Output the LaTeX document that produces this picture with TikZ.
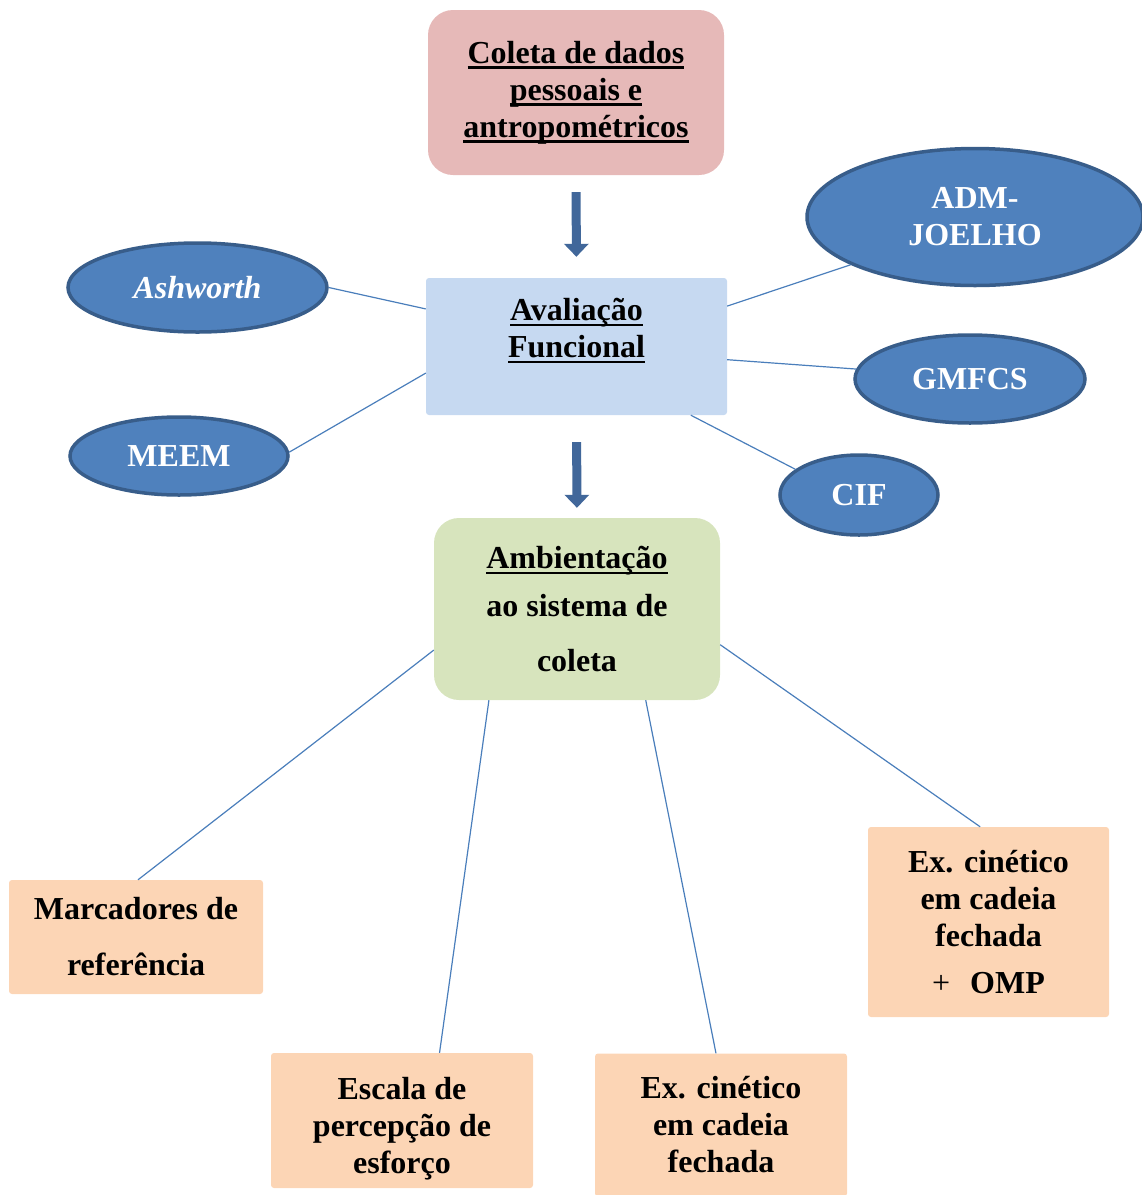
\documentclass[tikz,border=0pt]{standalone}
\usepackage{fontspec}
\setmainfont{Liberation Serif}
\usepackage{tikz}
\usetikzlibrary{arrows.meta}
\usetikzlibrary{shapes.geometric}
\definecolor{rosa}{HTML}{E6B9B8}
\definecolor{azulclaro}{HTML}{C6D9F1}
\definecolor{verde}{HTML}{D7E4BD}
\definecolor{laranja}{HTML}{FCD5B5}
\definecolor{azul}{HTML}{4F81BD}
\definecolor{azulborda}{HTML}{385D8A}
\definecolor{linha}{HTML}{4A7EBB}
\definecolor{azulseta}{HTML}{41679A}
\newcommand\sublinha[1]{\setbox0\hbox{#1}\rlap{\rule[-5.5pt]{\wd0}{2.5pt}}\box0}

\begin{document}
\begin{tikzpicture}[x=1pt,y=-1pt,font=\fontsize{32}{37}\selectfont\bfseries,
	etapa/.style={align=center,inner sep=0pt,rounded corners=25pt},
	oval/.style={ellipse,draw=azulborda,line width=3.5pt,fill=azul,text=white,align=center,inner sep=0pt},
	caixa/.style={fill=laranja,rounded corners=3pt,align=center,inner sep=0pt},
	liga/.style={draw=linha,line width=1.2pt},
	seta/.style={draw=azulseta,line width=9pt,-{Triangle[width=24pt,length=13pt]}}]
	\useasboundingbox (0,0) rectangle (1142,1195);
	% etapas
	\node[etapa,fill=rosa,minimum width=296pt,minimum height=165pt] (coleta) at (576,92.5) {\sublinha{Coleta de dados}\\\sublinha{pessoais e}\\\sublinha{antropométricos}};
	\node[etapa,fill=azulclaro,rounded corners=3pt,minimum width=301pt,minimum height=137pt] (ava) at (576.5,346.5) {\sublinha{Avaliação}\\\sublinha{Funcional}\\\mbox{}};
	\node[etapa,fill=verde,minimum width=286pt,minimum height=182pt] (amb) at (577,609) {\sublinha{Ambientação}\\[11pt]ao sistema de\\[18pt]coleta};
	\draw[seta,shorten <=17pt,shorten >=21pt] (coleta.south) -- (ava.north);
	\draw[seta,shorten <=27pt,shorten >=10pt] (ava.south) -- (amb.north);
	% escalas
	\node[oval,minimum width=259pt,minimum height=89pt] (ash) at (197.5,287.5) {\itshape Ashworth};
	\node[oval,minimum width=218pt,minimum height=78pt] (meem) at (179,456) {MEEM};
	\node[oval,minimum width=336pt,minimum height=137pt] (adm) at (975,217) {ADM-\\JOELHO};
	\node[oval,minimum width=230pt,minimum height=88pt] (gmfcs) at (970,379) {GMFCS};
	\node[oval,minimum width=158pt,minimum height=80pt] (cif) at (859,495) {CIF};
	\draw[liga] (ash.0) -- (ava.166);
	\draw[liga] (meem.2) -- (ava.190);
	\draw[liga] (ava.15) -- (adm.201);
	\draw[liga] (ava.-5) -- (gmfcs.175);
	\draw[liga] (ava.-31) -- (cif.158);
	% coleta
	\node[caixa,minimum width=254pt,minimum height=114pt] (marc) at (136,937) {Marcadores de\\[19pt]referência};
	\node[caixa,minimum width=262pt,minimum height=135pt] (esc) at (402,1120.5) {\rule{0pt}{38pt}Escala de\\percepção de\\esforço};
	\node[caixa,minimum width=252pt,minimum height=143pt] (ex2) at (721,1125) {Ex. cinético\\em cadeia\\fechada};
	\node[caixa,minimum width=241pt,minimum height=190pt] (ex1) at (988.5,922) {Ex. cinético\\em cadeia\\fechada\\[10pt]{\mdseries+}\hspace{20pt}OMP};
	\draw[liga] (amb.196) -- (marc.88);
	\draw[liga] (amb.226) -- (esc.61);
	\draw[liga] (amb.-53) -- (ex2.94);
	\draw[liga] (amb.-14) -- (ex1.95);
\end{tikzpicture}
\end{document}
